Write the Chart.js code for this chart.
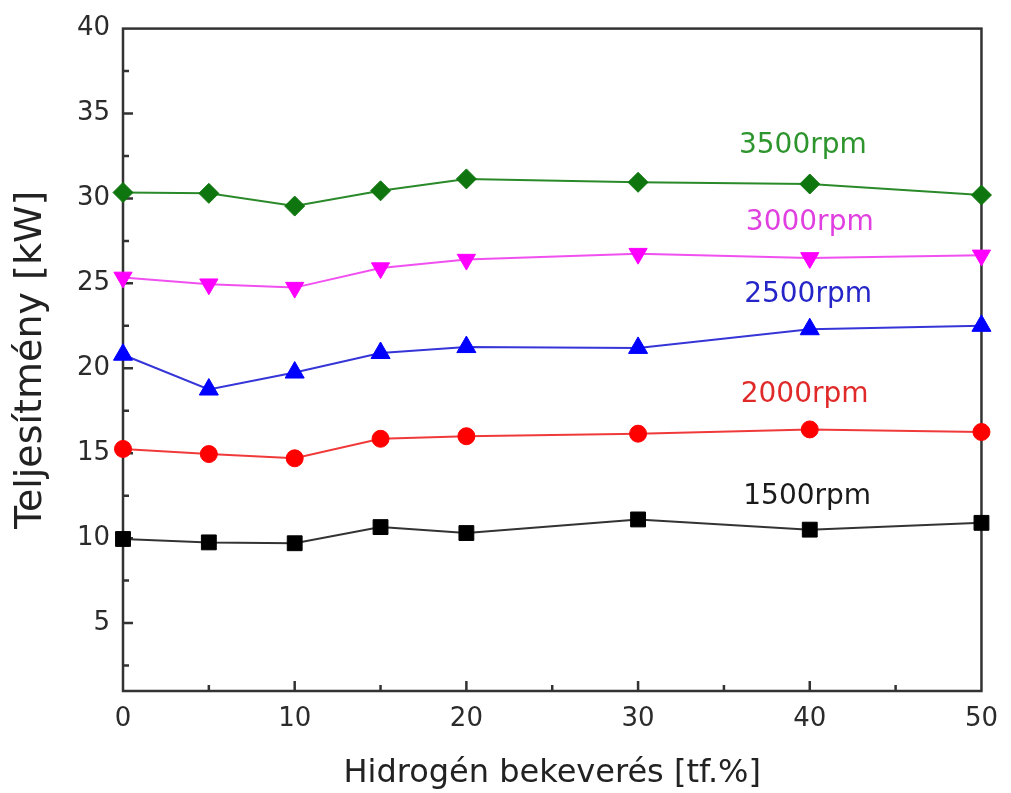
<!DOCTYPE html>
<html>
<head>
<meta charset="utf-8">
<script src="https://cdn.jsdelivr.net/npm/chart.js@4"></script>
<style>
    body { margin: 0; background: #ffffff; }
</style>
</head>
<body>
<canvas id="powerChart" width="1011" height="793"></canvas>
<script>
// Hydrogen share [tf.%] on the x axis
const hydrogenShare = [0, 5, 10, 15, 20, 30, 40, 50];

// Power [kW] per engine speed
const power1500 = [9.95, 9.75, 9.7, 10.65, 10.3, 11.1, 10.5, 10.9];
const power2000 = [15.25, 14.95, 14.7, 15.85, 16.0, 16.15, 16.4, 16.25];
const power2500 = [20.8, 18.75, 19.75, 20.9, 21.25, 21.2, 22.3, 22.5];
const power3000 = [25.35, 24.95, 24.75, 25.9, 26.4, 26.75, 26.5, 26.65];
const power3500 = [30.35, 30.3, 29.55, 30.45, 31.15, 30.95, 30.85, 30.2];

const seriesNames = ['1500rpm', '2000rpm', '2500rpm', '3000rpm', '3500rpm'];

const xTickValues = [0, 10, 20, 30, 40, 50];
const yTickValues = [5, 10, 15, 20, 25, 30, 35, 40];

const axisColor = '#333333';

// where the rpm labels sit, in data units
const labelSpots = {
    '1500rpm': { x: 39.85, y: 12.45, color: '#1a1a1a' },
    '2000rpm': { x: 39.7, y: 18.45, color: '#e02a2a' },
    '2500rpm': { x: 39.9, y: 24.35, color: '#2626c8' },
    '3000rpm': { x: 40.0, y: 28.6, color: '#e040e0' },
    '3500rpm': { x: 39.6, y: 33.1, color: '#2e952e' }
};

function toPoints(values) {
    return hydrogenShare.map((x, i) => ({ x: x, y: values[i] }));
}

// Frame round the plot plus inward major/minor ticks
const frameAndTicks = {
    id: 'frameAndTicks',
    beforeDatasetsDraw(chart) {
        const { ctx, chartArea: a, scales: { x, y } } = chart;
        ctx.save();
        ctx.strokeStyle = axisColor;
        ctx.lineWidth = 2.5;
        ctx.strokeRect(a.left, a.top, a.right - a.left, a.bottom - a.top);
        ctx.beginPath();
        for (let v = 5; v < 50; v += 5) {
            const px = x.getPixelForValue(v);
            const len = v % 10 === 0 ? 10 : 6;
            ctx.moveTo(px, a.bottom);
            ctx.lineTo(px, a.bottom - len);
        }
        for (let v = 2.5; v < 40; v += 2.5) {
            const py = y.getPixelForValue(v);
            const len = v % 5 === 0 ? 10 : 6;
            ctx.moveTo(a.left, py);
            ctx.lineTo(a.left + len, py);
        }
        ctx.stroke();
        ctx.restore();
    }
};

// rpm labels next to each curve
const seriesLabels = {
    id: 'seriesLabels',
    afterDatasetsDraw(chart) {
        const { ctx, scales: { x, y } } = chart;
        ctx.save();
        ctx.font = '28px "DejaVu Sans"';
        ctx.textAlign = 'center';
        ctx.textBaseline = 'middle';
        seriesNames.forEach(name => {
            const spot = labelSpots[name];
            ctx.fillStyle = spot.color;
            ctx.fillText(name, x.getPixelForValue(spot.x), y.getPixelForValue(spot.y));
        });
        ctx.restore();
    }
};

Chart.defaults.font.family = '"DejaVu Sans", sans-serif';
Chart.defaults.color = '#2b2b2b';

const ctx = document.getElementById('powerChart').getContext('2d');
new Chart(ctx, {
    type: 'line',
    data: {
        datasets: [{
            label: seriesNames[0],
            data: toPoints(power1500),
            borderColor: '#333333',
            backgroundColor: '#000000',
            pointBorderColor: '#000000',
            pointStyle: 'rect',
            pointRadius: 10.5
        }, {
            label: seriesNames[1],
            data: toPoints(power2000),
            borderColor: '#f03a3a',
            backgroundColor: '#ff0000',
            pointBorderColor: '#ff0000',
            pointStyle: 'circle',
            pointRadius: 8.5
        }, {
            label: seriesNames[2],
            data: toPoints(power2500),
            borderColor: '#3535d8',
            backgroundColor: '#0000ff',
            pointBorderColor: '#0000ff',
            pointStyle: 'triangle',
            pointRadius: 11
        }, {
            label: seriesNames[3],
            data: toPoints(power3000),
            borderColor: '#f050f0',
            backgroundColor: '#ff00ff',
            pointBorderColor: '#ff00ff',
            pointStyle: 'triangle',
            pointRotation: 180,
            pointRadius: 10.5
        }, {
            label: seriesNames[4],
            data: toPoints(power3500),
            borderColor: '#2a8a2a',
            backgroundColor: '#0f760f',
            pointBorderColor: '#0f760f',
            pointStyle: 'rectRot',
            pointRadius: 10
        }]
    },
    options: {
        responsive: false,
        animation: false,
        clip: false,
        datasets: {
            line: {
                borderWidth: 2,
                tension: 0,
                pointBorderWidth: 1,
                clip: false
            }
        },
        layout: {
            padding: { left: 0, top: 25, right: 20, bottom: 0 }
        },
        plugins: {
            legend: { display: false },
            tooltip: { enabled: false }
        },
        scales: {
            x: {
                type: 'linear',
                min: 0,
                max: 50,
                grid: { display: false, drawTicks: false },
                border: { display: false },
                afterBuildTicks: scale => {
                    scale.ticks = xTickValues.map(v => ({ value: v }));
                },
                afterFit: scale => { scale.height = 102; },
                ticks: {
                    padding: 13,
                    font: { size: 26 }
                },
                title: {
                    display: true,
                    text: 'Hidrogén bekeverés [tf.%]',
                    color: '#222222',
                    font: { size: 32 },
                    padding: { top: 6, bottom: 0 }
                }
            },
            y: {
                type: 'linear',
                min: 1,
                max: 40,
                grid: { display: false, drawTicks: false },
                border: { display: false },
                afterBuildTicks: scale => {
                    scale.ticks = yTickValues.map(v => ({ value: v }));
                },
                afterFit: scale => { scale.width = 123; },
                ticks: {
                    padding: 13,
                    font: { size: 26 }
                },
                title: {
                    display: true,
                    text: 'Teljesítmény [kW]',
                    color: '#222222',
                    font: { size: 38 },
                    padding: { top: 8, bottom: 8 }
                }
            }
        }
    },
    plugins: [frameAndTicks, seriesLabels]
});
</script>
</body>
</html>
